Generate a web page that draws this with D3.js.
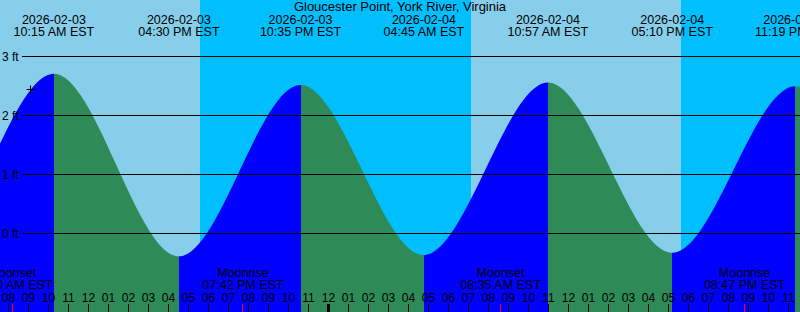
<!DOCTYPE html>
<html>
<head>
<meta charset="utf-8">
<script src="https://cdn.jsdelivr.net/npm/d3@7"></script>
<style>
  html, body { margin: 0; padding: 0; background: #fff; }
  svg { display: block; font-family: "Liberation Sans", Arial, sans-serif; font-size: 12px; }
</style>
</head>
<body>
<svg id="chart" width="800" height="312"></svg>
<script>
const TITLE = "Gloucester Point, York River, Virginia";

// tide extremes (the first two and last two are off the chart, estimated)
const tideTimes = [
  "2026-02-02 09:45 PM", "2026-02-03 03:55 AM",
  "2026-02-03 10:15 AM", "2026-02-03 04:30 PM", "2026-02-03 10:35 PM",
  "2026-02-04 04:45 AM", "2026-02-04 10:57 AM", "2026-02-04 05:10 PM", "2026-02-04 11:19 PM",
  "2026-02-05 05:35 AM", "2026-02-05 11:40 AM",
];
const tideHeights = [2.6, -0.35, 2.7, -0.39, 2.51, -0.37, 2.55, -0.33, 2.49, -0.3, 2.6];

// sunset / sunrise / sunset
const sunTimes = ["2026-02-03 05:32 PM", "2026-02-04 07:05 AM", "2026-02-04 05:35 PM"];

const moonEvents = ["Moonset", "Moonrise", "Moonset", "Moonrise"];
const moonTimes = ["2026-02-03 08:10 AM", "2026-02-03 07:42 PM", "2026-02-04 08:35 AM", "2026-02-04 08:47 PM"];

const heightTicks = [0, 1, 2, 3];

const nowTime = "2026-02-03 09:06 AM";
const nowHeight = 2.44;

const WIDTH = 800;
const HEIGHT = 312;
const DAY = "#87ceeb";
const NIGHT = "#00bfff";
const RISING = "#0000ff";
const FALLING = "#2e8b57";

const parse = d3.utcParse("%Y-%m-%d %I:%M %p");
const fmtDate = d3.utcFormat("%Y-%m-%d");
const fmtTime = d3.utcFormat("%I:%M %p");
const fmtHour = d3.utcFormat("%I");

const x = d3
  .scaleUtc()
  .domain([parse("2026-02-03 11:00 AM"), parse("2026-02-04 11:00 AM")])
  .range([68.9, 548.9]);
const y = d3.scaleLinear().domain([0, 3]).range([233.3, 56]);

const svg = d3.select("#chart");
const t0 = x.invert(0);
const t1 = x.invert(WIDTH);

// day / night background
const bounds = [t0, ...sunTimes.map(parse), t1];
svg
  .append("g")
  .attr("shape-rendering", "crispEdges")
  .selectAll("rect")
  .data(d3.pairs(bounds))
  .join("rect")
  .attr("x", (d) => Math.round(x(d[0])))
  .attr("width", (d) => Math.round(x(d[1])) - Math.round(x(d[0])))
  .attr("y", 0)
  .attr("height", HEIGHT)
  .attr("fill", (d, i) => (i % 2 ? NIGHT : DAY));

// tide curve, coloured by rising / falling
const tides = tideTimes.map((t, i) => ({ time: parse(t), h: tideHeights[i] }));
const area = d3
  .area()
  .x((d) => x(d.time))
  .y0(HEIGHT)
  .y1((d) => y(d.h))
  .curve(d3.curveMonotoneX);

const defs = svg.append("defs");
d3.pairs(tides).forEach(([a, b], i) => {
  const xa = Math.round(x(a.time));
  const xb = Math.round(x(b.time));
  defs
    .append("clipPath")
    .attr("id", "seg" + i)
    .append("rect")
    .attr("x", xa)
    .attr("width", xb - xa)
    .attr("y", 0)
    .attr("height", HEIGHT);
  svg
    .append("path")
    .datum(tides)
    .attr("clip-path", `url(#seg${i})`)
    .attr("fill", b.h > a.h ? RISING : FALLING)
    .attr("d", area);
});

// height grid
svg
  .append("g")
  .selectAll("line")
  .data(heightTicks)
  .join("line")
  .attr("x1", 22)
  .attr("x2", WIDTH)
  .attr("y1", (d) => Math.round(y(d)) + 0.5)
  .attr("y2", (d) => Math.round(y(d)) + 0.5)
  .attr("stroke", "#000")
  .attr("stroke-width", 1);

svg
  .append("g")
  .selectAll("text")
  .data(heightTicks)
  .join("text")
  .attr("x", 2)
  .attr("y", (d) => Math.round(y(d)) + 5)
  .text((d) => `${d} ft`);

// title
svg
  .append("text")
  .attr("x", WIDTH / 2)
  .attr("y", 11)
  .attr("text-anchor", "middle")
  .style("font-size", "13px")
  .text(TITLE);

// tide time labels (only the extremes that fall on the chart)
const tideLabels = svg.append("g").attr("text-anchor", "middle").style("font-size", "12.5px");
tides
  .filter((d) => x(d.time) >= 0 && x(d.time) <= WIDTH)
  .forEach((d) => {
    tideLabels.append("text").attr("x", x(d.time)).attr("y", 24).text(fmtDate(d.time));
    tideLabels.append("text").attr("x", x(d.time)).attr("y", 36).text(fmtTime(d.time) + " EST");
  });

// moon labels
const moonLabels = svg.append("g").attr("text-anchor", "middle").style("font-size", "12.5px");
moonTimes.forEach((t, i) => {
  const mx = x(parse(t));
  moonLabels.append("text").attr("x", mx).attr("y", 277).text(moonEvents[i]);
  moonLabels.append("text").attr("x", mx).attr("y", 289).text(fmtTime(parse(t)) + " EST");
});

// hour axis
const hours = d3.utcHour.range(x.invert(-10), x.invert(WIDTH + 10));
svg
  .append("g")
  .attr("text-anchor", "middle")
  .selectAll("text")
  .data(hours)
  .join("text")
  .attr("x", (d) => Math.floor(x(d)) + 0.5)
  .attr("y", 302)
  .text((d) => fmtHour(d));

svg
  .append("g")
  .selectAll("line")
  .data(hours)
  .join("line")
  .attr("x1", (d) => Math.floor(x(d)) + 0.5)
  .attr("x2", (d) => Math.floor(x(d)) + 0.5)
  .attr("y1", 304)
  .attr("y2", HEIGHT)
  .attr("stroke", "#000")
  .attr("stroke-width", (d) => (d.getUTCHours() === 0 ? 3 : 1));

svg
  .append("g")
  .selectAll("line")
  .data(moonTimes.map(parse))
  .join("line")
  .attr("x1", (d) => Math.floor(x(d)) + 0.5)
  .attr("x2", (d) => Math.floor(x(d)) + 0.5)
  .attr("y1", 304)
  .attr("y2", HEIGHT)
  .attr("stroke", "#ff0000")
  .attr("stroke-width", 1);

// current time marker
const nx = Math.floor(x(parse(nowTime))) + 0.5;
const ny = Math.floor(y(nowHeight)) + 0.5;
svg
  .append("path")
  .attr("d", `M${nx - 4},${ny}H${nx + 5}M${nx},${ny - 4}V${ny + 5}`)
  .attr("stroke", "#000")
  .attr("stroke-width", 1);
</script>
</body>
</html>
